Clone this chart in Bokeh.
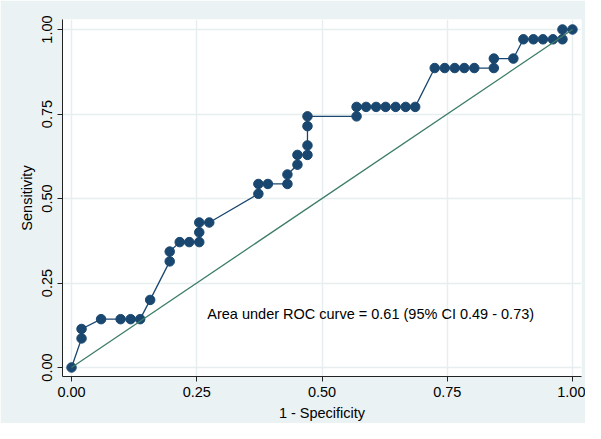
from bokeh.plotting import figure
from bokeh.models import Range1d, FixedTicker, Label
from bokeh.embed import file_html
from bokeh.resources import INLINE

# ROC curve points
fpr = [0.000,
       0.020, 0.020,
       0.059, 0.098, 0.118, 0.137,
       0.157,
       0.196, 0.196,
       0.216, 0.235, 0.255, 0.255, 0.255, 0.275,
       0.373, 0.373, 0.392, 0.431, 0.431,
       0.451, 0.451, 0.471, 0.471, 0.471, 0.471,
       0.569, 0.569, 0.588, 0.608, 0.627, 0.647, 0.667, 0.686,
       0.725, 0.745, 0.765, 0.784, 0.804, 0.843,
       0.843, 0.882,
       0.902, 0.922, 0.941, 0.961, 0.980,
       0.980, 1.000]
tpr = [0.000,
       0.086, 0.114,
       0.143, 0.143, 0.143, 0.143,
       0.200,
       0.314, 0.343,
       0.371, 0.371, 0.371, 0.400, 0.429, 0.429,
       0.514, 0.543, 0.543, 0.543, 0.571,
       0.600, 0.629, 0.629, 0.657, 0.714, 0.743,
       0.743, 0.771, 0.771, 0.771, 0.771, 0.771, 0.771, 0.771,
       0.886, 0.886, 0.886, 0.886, 0.886, 0.886,
       0.914, 0.914,
       0.971, 0.971, 0.971, 0.971, 0.971,
       1.000, 1.000]
ref_x = [0.0, 1.0]
ref_y = [0.0, 1.0]
ticks = [0.0, 0.25, 0.5, 0.75, 1.0]
tick_labels = {0.0: "0.00", 0.25: "0.25", 0.5: "0.50", 0.75: "0.75", 1.0: "1.00"}
auc_text = "Area under ROC curve = 0.61 (95% CI 0.49 - 0.73)"

FONT = "Liberation Sans"
BG = "#EAF2F3"
NAVY = "#1A476F"
GREEN = "#3D7D68"

p = figure(width=585, height=423, output_backend="svg", toolbar_location=None,
           x_range=Range1d(-0.018, 1.018), y_range=Range1d(-0.0266, 1.0296),
           min_border_left=62, min_border_right=4, min_border_top=19, min_border_bottom=47)
p.background_fill_color = "white"
p.border_fill_color = BG
p.outline_line_color = None

for ax in (p.xaxis[0], p.yaxis[0]):
    ax.ticker = FixedTicker(ticks=ticks)
    ax.major_label_overrides = tick_labels
    ax.minor_tick_line_color = None
    ax.major_tick_out = 5
    ax.major_tick_in = 0
    ax.axis_line_color = "#222222"
    ax.major_tick_line_color = "#222222"
    ax.major_label_text_font = FONT
    ax.major_label_text_font_size = "14.5px"
    ax.major_label_text_color = "black"
    ax.axis_label_text_font = FONT
    ax.axis_label_text_font_size = "14.5px"
    ax.axis_label_text_font_style = "normal"
    ax.axis_label_text_color = "black"
    ax.major_label_standoff = 5
    ax.axis_label_standoff = 5

p.xaxis.axis_label = "1 - Specificity"
p.yaxis.axis_label = "Sensitivity"
p.yaxis.major_label_orientation = "vertical"

p.xgrid.ticker = FixedTicker(ticks=ticks)
p.ygrid.ticker = FixedTicker(ticks=ticks)
p.grid.grid_line_color = "#E6EEF0"
p.grid.grid_line_width = 1.5

p.line(fpr, tpr, line_color=NAVY, line_width=1.3)
p.scatter(fpr, tpr, size=9.5, fill_color=NAVY, line_color=NAVY)
p.line(ref_x, ref_y, line_color=GREEN, line_width=1.3)

p.add_layout(Label(x=0.271, y=0.157, text=auc_text, text_font=FONT,
                   text_font_size="14.5px", text_color="black", text_baseline="middle"))

open("out.html", "w").write(file_html(p, INLINE))
